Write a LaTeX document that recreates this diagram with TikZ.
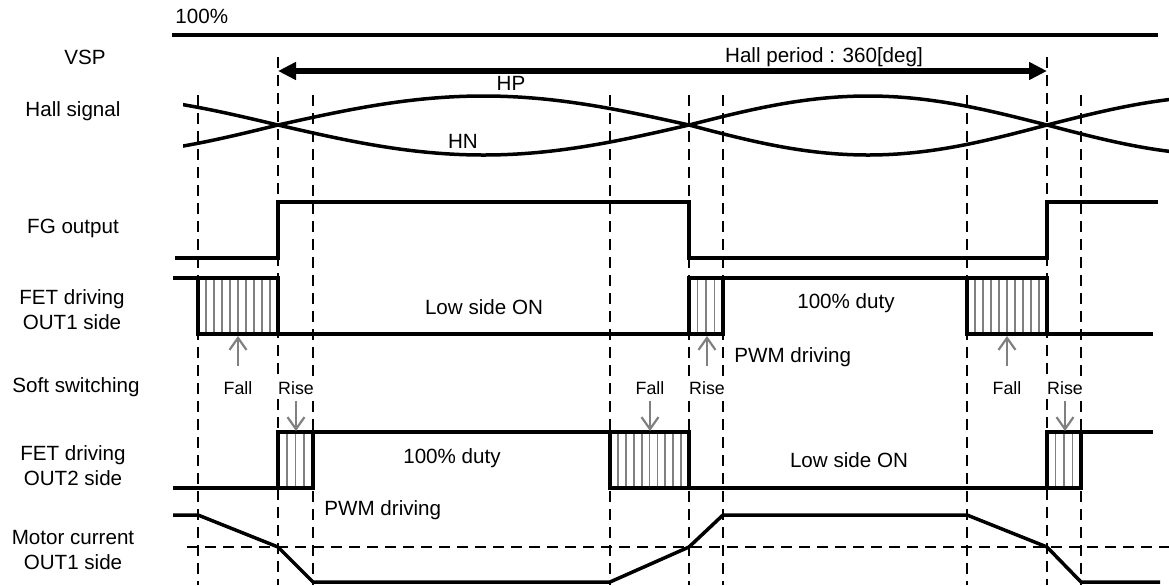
\documentclass[tikz,border=0pt]{standalone}
\usepackage{fontspec}
\setmainfont{Liberation Sans}
\usetikzlibrary{arrows.meta,positioning}
\definecolor{hatchGray}{RGB}{128,128,128}
% hatched soft switching window: x1 y1 x2 y2
\newcommand{\softbox}[4]{%
  \pgfmathsetmacro{\sbw}{#3-#1}%
  \pgfmathtruncatemacro{\sbn}{round(\sbw/8)-1}%
  \foreach \k in {1,...,\sbn}
    \draw[hatch] ({#1+\k*\sbw/(\sbn+1)},#2) -- ({#1+\k*\sbw/(\sbn+1)},#4);
  \draw[boxline] (#1,#2) rectangle (#3,#4);
}

\begin{document}
\begin{tikzpicture}[x=0.5pt,y=-0.5pt,
    lbl/.style={align=center, font=\fontsize{10.3}{12.5}\selectfont, inner sep=0pt},
    txt/.style={font=\fontsize{10.3}{12.5}\selectfont, inner sep=0pt},
    tag/.style={font=\fontsize{8.9}{10}\selectfont, inner sep=0.5pt, fill=white},
    wave/.style={line width=1.75pt, line join=miter},
    guide/.style={line width=1.4pt, dash pattern=on 5.5pt off 3.5pt},
    hatch/.style={hatchGray, line width=0.9pt},
    boxline/.style={line width=2.1pt},
    soft/.style={hatchGray, line width=1.1pt, -{Straight Barb[length=6pt,width=8.5pt]}},
    period/.style={line width=2.9pt,
      {Triangle[length=9pt,width=8.5pt]}-{Triangle[length=9pt,width=8.5pt]}}
  ]
  \useasboundingbox (0,0) rectangle (1169,585);

  % time marks
  \foreach \x in {198,313,610,689,723,967,1081}
    \draw[guide] (\x,95) -- (\x,585);
  \foreach \x in {278,1047}
    \draw[guide] (\x,57) -- (\x,585);
  \draw[guide] (187,547) -- (1169,547);

  % row labels
  \node[txt, anchor=west] (full) at (175,16) {100\%};
  \node[lbl] (vsp)  at (85,57)  {VSP};
  \node[lbl] (hall) at (73,111) {Hall signal};
  \node[lbl] (fg)   at (73,228) {FG output};
  \node[lbl] (fet1) at (72,310) {FET driving\\OUT1 side};
  \node[lbl] (soft) at (76,387) {Soft switching};
  \node[lbl] (fet2) at (73,466) {FET driving\\OUT2 side};
  \node[lbl] (mot)  at (73,550) {Motor current\\OUT1 side};

  % VSP and hall period
  \draw[wave] (172,35) -- (1158,35);
  \coordinate (perL) at (278,71);
  \coordinate (perR) at (1047,71);
  \draw[period] (perL) -- (perR);
  \node[txt] (per) at (824,57) {Hall period : 360[deg]};

  % hall signals
  \begin{scope}
    \clip (183,80) rectangle (1169,170);
    \draw[wave] (86,155) cos (278,125) sin (483.5,96) cos (689,125)
                sin (868,155) cos (1047,125) sin (1226,96);
    \draw[wave] (86,96) cos (278,125) sin (483.5,155) cos (689,125)
                sin (868,96) cos (1047,125) sin (1226,155);
  \end{scope}
  \node[txt] (hp) at (511,83)  {HP};
  \node[txt] (hn) at (463,141) {HN};

  % FG output
  \draw[wave] (175,258) -- (278,258) -- (278,202) -- (689,202) -- (689,258)
              -- (1047,258) -- (1047,202) -- (1158,202);

  % FET driving OUT1
  \draw[wave] (173,278) -- (198,278);
  \draw[wave] (278,334) -- (689,334);
  \draw[wave] (723,278) -- (967,278);
  \draw[wave] (1047,334) -- (1153,334);
  \softbox{198}{278}{278}{334}
  \softbox{689}{278}{723}{334}
  \softbox{967}{278}{1047}{334}
  \node[txt] (lowA)  at (484,307) {Low side ON};
  \node[txt] (dutyA) at (846,303) {100\% duty};
  \node[txt, anchor=west] (pwmA) at (734,357) {PWM driving};

  % FET driving OUT2
  \draw[wave] (173,488) -- (278,488);
  \draw[wave] (313,432) -- (610,432);
  \draw[wave] (689,488) -- (1047,488);
  \draw[wave] (1081,432) -- (1153,432);
  \softbox{278}{432}{313}{488}
  \softbox{610}{432}{689}{488}
  \softbox{1047}{432}{1081}{488}
  \node[txt] (dutyB) at (452,458) {100\% duty};
  \node[txt] (lowB)  at (849,460) {Low side ON};
  \node[txt, anchor=west] (pwmB) at (324,510) {PWM driving};

  % soft switching marks
  \node[tag] (fallA) at (238,388)  {Fall};
  \node[tag] (riseA) at (296,388)  {Rise};
  \node[tag] (fallB) at (650,388)  {Fall};
  \node[tag] (riseB) at (707,388)  {Rise};
  \node[tag] (fallC) at (1007,388) {Fall};
  \node[tag] (riseC) at (1065,388) {Rise};
  \coordinate (fallAend) at (238,336);
  \coordinate (riseAend) at (296,431);
  \coordinate (fallBend) at (650,431);
  \coordinate (riseBend) at (707,336);
  \coordinate (fallCend) at (1007,336);
  \coordinate (riseCend) at (1065,431);
  \draw[soft, shorten <=7pt]   (fallA.north) -- (fallAend);
  \draw[soft, shorten <=2.5pt] (riseA.south) -- (riseAend);
  \draw[soft, shorten <=2.5pt] (fallB.south) -- (fallBend);
  \draw[soft, shorten <=7pt]   (riseB.north) -- (riseBend);
  \draw[soft, shorten <=7pt]   (fallC.north) -- (fallCend);
  \draw[soft, shorten <=2.5pt] (riseC.south) -- (riseCend);

  % motor current
  \draw[wave] (173,515) -- (198,515) -- (278,547) -- (313,582) -- (610,582)
              -- (689,547) -- (723,515) -- (967,515) -- (1047,547)
              -- (1081,582) -- (1160,582);
\end{tikzpicture}
\end{document}
